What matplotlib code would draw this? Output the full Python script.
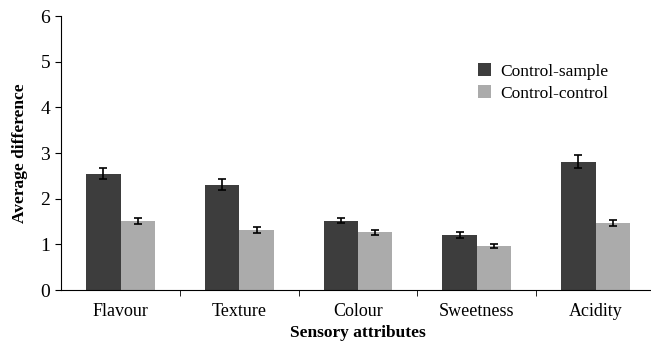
import numpy as np
import matplotlib
matplotlib.use('Agg')
import matplotlib.pyplot as plt

plt.rcParams['font.family'] = ['Liberation Serif', 'DejaVu Serif']

categories = ['Flavour', 'Texture', 'Colour', 'Sweetness', 'Acidity']
control_sample = [2.55, 2.31, 1.52, 1.21, 2.81]
control_sample_err = [0.12, 0.12, 0.06, 0.06, 0.14]
control_control = [1.51, 1.31, 1.26, 0.96, 1.47]
control_control_err = [0.07, 0.06, 0.06, 0.05, 0.07]

fig = plt.figure(figsize=(6.51, 3.42), dpi=100)
ax = fig.add_axes([0.094, 0.152, 0.912, 0.801])

x = np.arange(len(categories))
w = 0.29
err_kw = dict(ecolor='black', elinewidth=1.2, capsize=3, capthick=1.2)
ax.bar(x - w / 2, control_sample, w, yerr=control_sample_err, color='#3d3d3d',
       label='Control-sample', error_kw=err_kw)
ax.bar(x + w / 2, control_control, w, yerr=control_control_err, color='#ababab',
       label='Control-control', error_kw=err_kw)

ax.set_xlim(-0.5, 4.5)
ax.set_ylim(0, 6)
ax.set_yticks(range(7))
ax.set_xticks(x)
ax.set_xticklabels(categories)
ax.set_xticks(x[:-1] + 0.5, minor=True)
ax.tick_params(axis='x', which='major', length=0, pad=9, labelsize=13)
ax.tick_params(axis='x', which='minor', length=4, direction='out')
ax.tick_params(axis='y', length=4, direction='out', labelsize=14, pad=4)

for s in ['top', 'right']:
    ax.spines[s].set_visible(False)

ax.set_xlabel('Sensory attributes', fontsize=12.5, fontweight='bold', labelpad=4)
ax.set_ylabel('Average difference', fontsize=12.5, fontweight='bold', labelpad=9)

ax.legend(loc='upper left', bbox_to_anchor=(0.675, 0.885), frameon=False, fontsize=12.5,
          handlelength=0.8, handleheight=0.8, handletextpad=0.5, labelspacing=0.3)

fig.savefig('out.png', dpi=100)
